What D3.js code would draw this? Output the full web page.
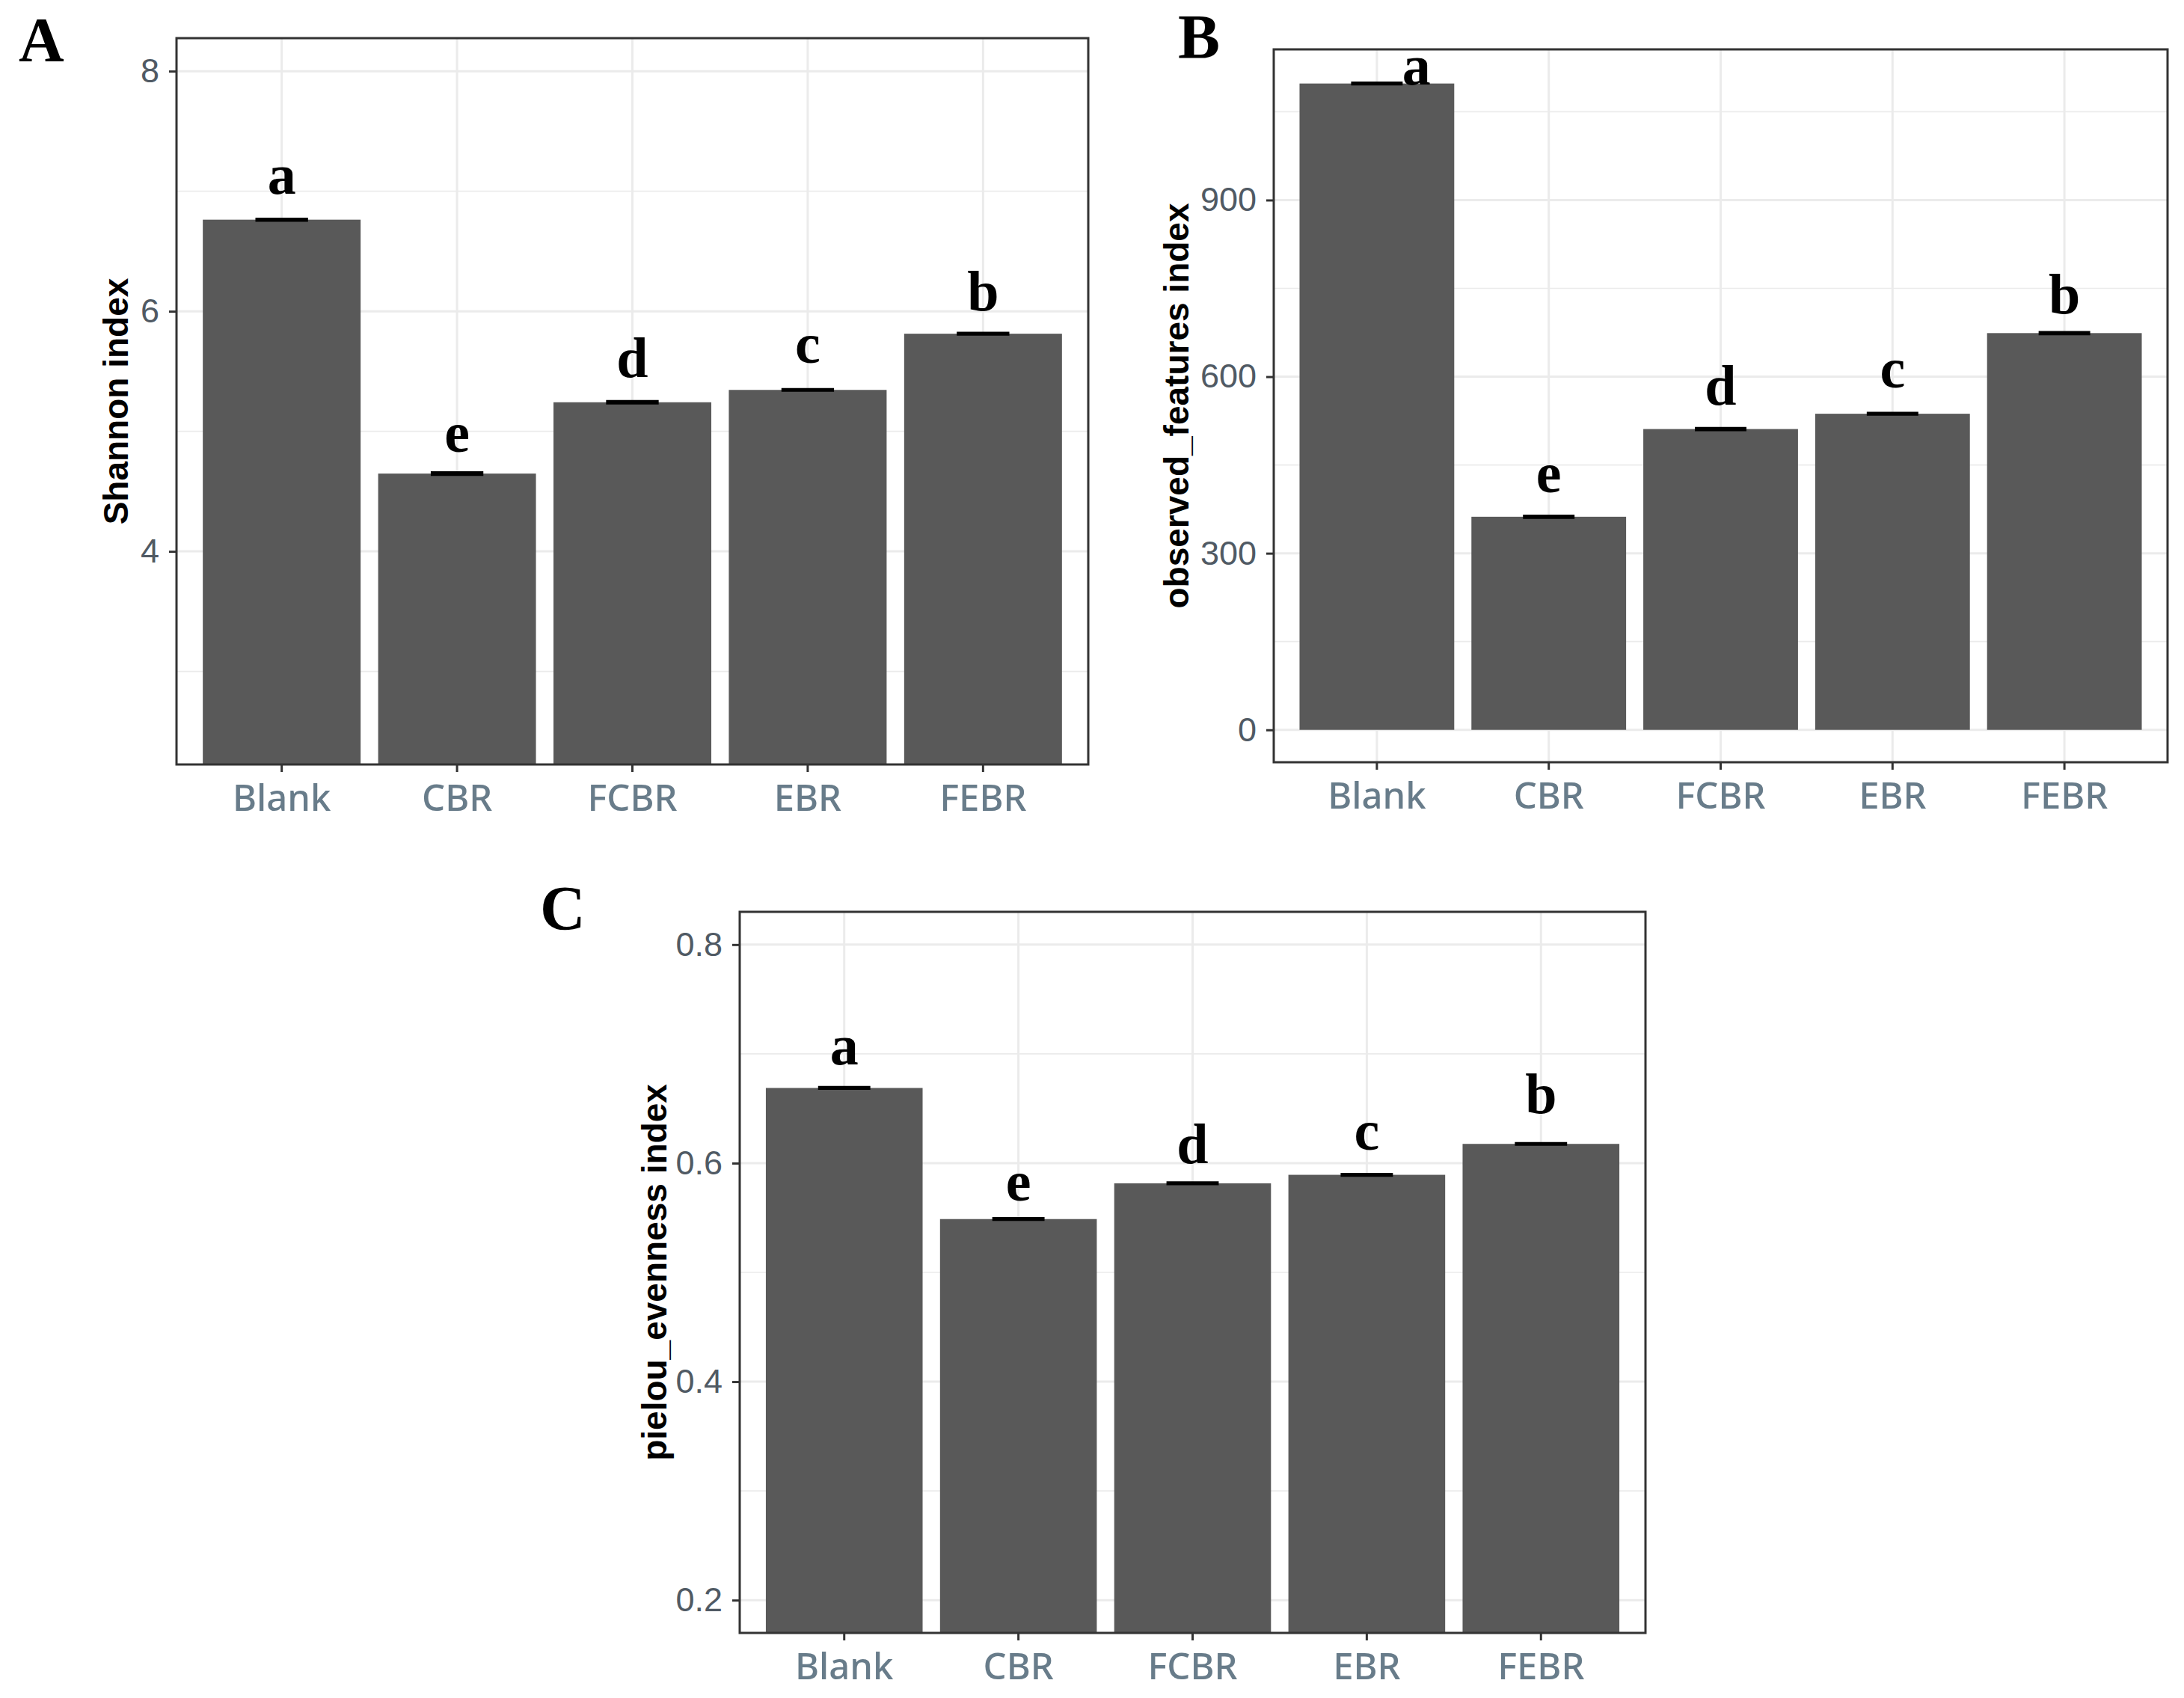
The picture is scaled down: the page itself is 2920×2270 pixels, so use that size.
<!DOCTYPE html>
<html>
<head>
<meta charset="utf-8">
<script src="https://cdn.jsdelivr.net/npm/d3@7"></script>
<style>
  body { margin: 0; background: #fff; }
</style>
</head>
<body>
<div id="graph"></div>
<script>
//Data
const groups = ["Blank", "CBR", "FCBR", "EBR", "FEBR"];
const letters = ["a", "e", "d", "c", "b"];

const shannon = [6.763, 4.648, 5.242, 5.345, 5.813];
const shannonSe = [0.006, 0.008, 0.008, 0.005, 0.006];
const shannonLabelY = [6.98, 4.83, 5.45, 5.57, 6.01];

const observed = [1098, 362, 511, 537, 674];
const observedSe = [1, 1.5, 1.5, 1, 1.5];
const observedLabelY = [1096, 404, 552, 582, 707];

const pielou = [0.6688, 0.5488, 0.5815, 0.5893, 0.6176];
const pielouSe = [0.0006, 0.0006, 0.0006, 0.0006, 0.0005];
const pielouLabelY = [0.690, 0.566, 0.600, 0.612, 0.646];

//Display specifications
const W = 2920, H = 2270;

const svg = d3.select("#graph")
    .append("svg")
    .attr("width", W)
    .attr("height", H);

svg.append("rect").attr("width", W).attr("height", H).attr("fill", "#fff");

function drawPanel(cfg) {
   const w = cfg.x1 - cfg.x0, h = cfg.y1 - cfg.y0;
   const g = svg.append("g").attr("transform", "translate(" + cfg.x0 + "," + cfg.y0 + ")");

   //Scales
   const x = d3.scaleBand().domain(groups).range([0, w]).paddingInner(0.1).paddingOuter(0.15);
   const y = d3.scaleLinear().domain(cfg.domain).range([h, 0]);

   //Minor grid
   g.append("g").selectAll("line").data(cfg.minor).enter().append("line")
      .attr("x1", 0).attr("x2", w)
      .attr("y1", d => y(d)).attr("y2", d => y(d))
      .attr("stroke", "#EBEBEB").attr("stroke-width", 1.6);

   //Major grid
   g.append("g").selectAll("line").data(cfg.major).enter().append("line")
      .attr("x1", 0).attr("x2", w)
      .attr("y1", d => y(d)).attr("y2", d => y(d))
      .attr("stroke", "#EBEBEB").attr("stroke-width", 3);
   g.append("g").selectAll("line").data(groups).enter().append("line")
      .attr("x1", d => x(d) + x.bandwidth() / 2).attr("x2", d => x(d) + x.bandwidth() / 2)
      .attr("y1", 0).attr("y2", h)
      .attr("stroke", "#EBEBEB").attr("stroke-width", 3);

   //Bars
   const base = y(Math.max(0, cfg.domain[0]));
   g.append("g").selectAll("rect").data(cfg.values).enter().append("rect")
      .attr("x", (d, i) => x(groups[i]))
      .attr("width", x.bandwidth())
      .attr("y", d => y(d))
      .attr("height", d => base - y(d))
      .attr("fill", "#595959");

   //Error bars
   const ew = x.step() * 0.15;
   const eb = g.append("g").attr("stroke", "#000").attr("stroke-width", 3.5).attr("fill", "none");
   cfg.values.forEach(function (v, i) {
      const cx = x(groups[i]) + x.bandwidth() / 2;
      const lo = y(v - cfg.se[i]), hi = y(v + cfg.se[i]);
      eb.append("path")
         .attr("d", "M" + (cx - ew) + "," + hi + "H" + (cx + ew) +
                    "M" + cx + "," + hi + "V" + lo +
                    "M" + (cx - ew) + "," + lo + "H" + (cx + ew));
   });

   //Significance letters
   g.append("g").selectAll("text").data(letters).enter().append("text")
      .attr("x", (d, i) => x(groups[i]) + x.bandwidth() / 2 + (cfg.nudge ? cfg.nudge[i] : 0) * x.step())
      .attr("y", (d, i) => y(cfg.labelY[i]))
      .attr("text-anchor", "middle")
      .style("font-family", "'Liberation Serif', 'Times New Roman', serif")
      .style("font-weight", "bold")
      .style("font-size", "76px")
      .text(d => d);

   //Y axis
   const ya = g.append("g")
      .call(d3.axisLeft(y).tickValues(cfg.major).tickFormat(d3.format(cfg.fmt)).tickSize(10).tickPadding(13));
   ya.select(".domain").remove();
   ya.selectAll(".tick line").attr("stroke", "#333").attr("stroke-width", 3);
   ya.selectAll(".tick text")
      .style("font-family", "'Liberation Sans', Arial, sans-serif")
      .style("font-size", "45px")
      .attr("fill", "#505a64");

   //X axis
   const xa = g.append("g")
      .attr("transform", "translate(0," + h + ")")
      .call(d3.axisBottom(x).tickSize(10).tickPadding(17));
   xa.select(".domain").remove();
   xa.selectAll(".tick line").attr("stroke", "#333").attr("stroke-width", 3);
   xa.selectAll(".tick text")
      .style("font-family", "'Noto Sans', sans-serif")
      .style("font-weight", "500")
      .style("font-size", "49px")
      .attr("fill", "#687c8a");

   //Panel border
   g.append("rect")
      .attr("width", w).attr("height", h)
      .attr("fill", "none")
      .attr("stroke", "#333").attr("stroke-width", 3);

   //Y label
   svg.append("text")
      .attr("transform", "translate(" + cfg.titleX + "," + (cfg.y0 + h / 2) + ") rotate(-90)")
      .attr("dy", "0.35em")
      .attr("text-anchor", "middle")
      .style("font-family", "'Liberation Sans', Arial, sans-serif")
      .style("font-weight", "bold")
      .style("font-size", "46px")
      .text(cfg.title);

   //Panel tag
   svg.append("text")
      .attr("x", cfg.tag[1]).attr("y", cfg.tag[2])
      .style("font-family", "'Liberation Serif', 'Times New Roman', serif")
      .style("font-weight", "bold")
      .style("font-size", "84px")
      .text(cfg.tag[0]);
}

drawPanel({
   x0: 236, x1: 1455, y0: 51, y1: 1022,
   domain: [2.225, 8.275], major: [4, 6, 8], minor: [3, 5, 7], fmt: "d",
   values: shannon, se: shannonSe, labelY: shannonLabelY,
   title: "Shannon index", titleX: 155, tag: ["A", 25, 82]
});

drawPanel({
   x0: 1703, x1: 2898, y0: 66, y1: 1019,
   domain: [-55, 1156], major: [0, 300, 600, 900], minor: [150, 450, 750, 1050], fmt: "d",
   values: observed, se: observedSe, labelY: observedLabelY,
   nudge: [0.23, 0, 0, 0, 0],
   title: "observed_features index", titleX: 1573, tag: ["B", 1575, 78]
});

drawPanel({
   x0: 989, x1: 2200, y0: 1219, y1: 2183,
   domain: [0.17, 0.83], major: [0.2, 0.4, 0.6, 0.8], minor: [0.3, 0.5, 0.7], fmt: ".1f",
   values: pielou, se: pielouSe, labelY: pielouLabelY,
   title: "pielou_evenness index", titleX: 875, tag: ["C", 722, 1243]
});
</script>
</body>
</html>
